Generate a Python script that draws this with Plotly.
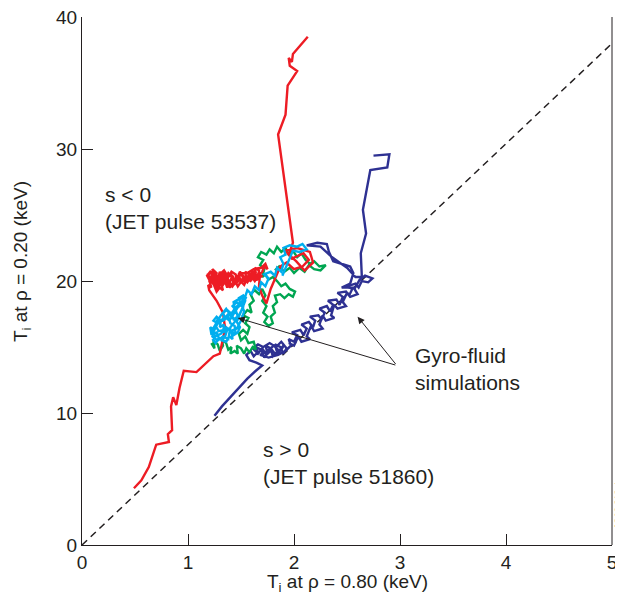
import plotly.graph_objects as go

# ---- data ----
red_pts = [
    (0.49, 4.3), (0.56, 4.9), (0.63, 5.9), (0.70, 7.6), (0.82, 7.8), (0.81, 8.4), (0.85, 8.7),
    (0.84, 10.5), (0.86, 11.2), (0.89, 10.6), (0.92, 11.9), (0.96, 13.2), (1.08, 13.1),
    (1.21, 14.1), (1.24, 14.3), (1.30, 14.5), (1.32, 15.3), (1.35, 16.4), (1.33, 17.6),
    (1.27, 18.5), (1.20, 19.3),
    (1.19, 19.7), (1.22, 19.5), (1.20, 20.1), (1.18, 20.4), (1.21, 20.7), (1.24, 20.5),
    (1.23, 20.9), (1.27, 20.6), (1.26, 20.2), (1.29, 20.4), (1.28, 19.8), (1.25, 19.6),
    (1.27, 19.2), (1.30, 19.5), (1.33, 19.3), (1.31, 19.9), (1.35, 20.1), (1.33, 20.6),
    (1.37, 20.4), (1.36, 19.7), (1.40, 19.9), (1.39, 19.5), (1.43, 19.7), (1.42, 20.2),
    (1.46, 20.0), (1.45, 20.5), (1.41, 20.7), (1.38, 20.3), (1.34, 20.8), (1.30, 20.5),
    (1.32, 20.0), (1.29, 19.6), (1.24, 19.9), (1.22, 20.3), (1.26, 20.0), (1.30, 20.2),
    (1.36, 19.9), (1.41, 20.1), (1.45, 19.8), (1.49, 20.1), (1.48, 20.6), (1.52, 20.4),
    (1.51, 19.9), (1.55, 20.2), (1.54, 20.7), (1.58, 20.5), (1.57, 20.1), (1.61, 20.3),
    (1.60, 20.8), (1.64, 20.6), (1.63, 21.0), (1.67, 20.8), (1.66, 20.4), (1.70, 20.7),
    (1.72, 21.1), (1.75, 20.9), (1.73, 21.3), (1.69, 21.0), (1.62, 20.9), (1.56, 20.6),
    (1.50, 20.6), (1.46, 20.3), (1.52, 20.0), (1.58, 20.2), (1.65, 20.1), (1.70, 20.4),
    (1.64, 20.5), (1.59, 20.0), (1.53, 20.3), (1.47, 19.6), (1.42, 20.4), (1.37, 19.5),
    (1.33, 20.4), (1.27, 19.4), (1.23, 20.6), (1.20, 19.9), (1.25, 20.3), (1.31, 19.7),
    (1.38, 20.6), (1.44, 20.0), (1.50, 20.5), (1.56, 19.9), (1.62, 20.6), (1.67, 20.2),
    (1.60, 20.4), (1.55, 20.0), (1.49, 20.7), (1.45, 19.9), (1.40, 20.6), (1.35, 19.8),
    (1.30, 20.7), (1.26, 19.5), (1.22, 20.0), (1.19, 20.5), (1.24, 20.7), (1.28, 20.1),
    (1.33, 19.7), (1.37, 20.2), (1.42, 19.6), (1.47, 20.2), (1.53, 19.7), (1.58, 20.6),
    (1.63, 20.0), (1.68, 20.6),
    (1.67, 19.6), (1.70, 18.9), (1.74, 18.3), (1.78, 19.4), (1.83, 20.4), (1.87, 21.1),
    (1.93, 21.4), (2.00, 20.9), (2.08, 21.1), (2.14, 21.6), (2.09, 22.1), (1.98, 21.7),
    (1.92, 22.3), (2.03, 22.5), (2.15, 22.2), (2.18, 21.4), (2.10, 20.8), (2.02, 21.5),
    (1.95, 22.0), (1.99, 22.9),
    (1.85, 31.1), (1.92, 32.6), (1.94, 34.8), (2.03, 35.9), (1.96, 36.3), (1.95, 36.9),
    (1.98, 36.6), (1.99, 37.2), (2.13, 38.5),
]

blue_pts = [
    (1.25, 9.8), (1.32, 10.5), (1.40, 11.2), (1.48, 11.9), (1.56, 12.6), (1.64, 13.2),
    (1.70, 13.6), (1.65, 13.8), (1.58, 14.0), (1.55, 14.4), (1.59, 14.7), (1.62, 14.3),
    (1.66, 14.6), (1.64, 15.0), (1.69, 14.8), (1.72, 14.2), (1.75, 14.6), (1.73, 15.1),
    (1.78, 14.9), (1.80, 14.3), (1.84, 14.6), (1.82, 15.2), (1.87, 15.0), (1.90, 14.5),
    (1.93, 14.9), (1.88, 15.4), (1.83, 15.0), (1.77, 15.3), (1.71, 15.0), (1.66, 15.2),
    (1.61, 14.9), (1.66, 14.5), (1.70, 14.9), (1.74, 14.4), (1.79, 14.8), (1.83, 14.4),
    (1.88, 14.8), (1.91, 15.2), (1.86, 14.7), (1.81, 15.1), (1.75, 14.7),
    (1.68, 14.4), (1.76, 14.2), (1.85, 14.4), (1.92, 14.7), (1.97, 15.1),
    (1.95, 15.6), (2.00, 15.4), (2.03, 15.9), (1.98, 16.1), (2.06, 16.3), (2.09, 15.9),
    (2.12, 16.4), (2.07, 16.7), (2.14, 16.9), (2.18, 16.5), (2.20, 17.0), (2.15, 17.3),
    (2.23, 17.4), (2.26, 17.1), (2.29, 17.6), (2.24, 17.9), (2.31, 18.1), (2.34, 17.7),
    (2.37, 18.2), (2.32, 18.5), (2.40, 18.6), (2.43, 18.2), (2.46, 18.8), (2.41, 19.1),
    (2.49, 19.2), (2.52, 18.9), (2.55, 19.4), (2.50, 19.6), (2.58, 19.8), (2.61, 19.5),
    (2.64, 20.0), (2.70, 19.9), (2.74, 20.2), (2.67, 20.4), (2.62, 20.1), (2.57, 19.4),
    (2.60, 19.0), (2.53, 18.8), (2.50, 19.1), (2.46, 18.4), (2.49, 18.1), (2.41, 17.9),
    (2.38, 18.2), (2.35, 17.4), (2.38, 17.2), (2.30, 17.0), (2.27, 17.4), (2.24, 16.7),
    (2.27, 16.4), (2.19, 16.2), (2.16, 16.6), (2.12, 15.8), (2.15, 15.6), (2.07, 15.4),
    (2.04, 15.8), (2.00, 15.1), (1.95, 15.3),
    (None, None),
    (2.58, 19.5), (2.45, 19.5), (2.53, 19.8), (2.56, 20.6), (2.53, 21.1), (2.45, 21.3),
    (2.37, 21.5), (2.33, 22.2), (2.31, 22.8), (2.22, 22.9), (2.12, 22.7), (2.25, 22.6),
    (2.36, 21.8), (2.50, 21.0), (2.58, 20.3), (2.64, 20.3), (2.63, 22.1), (2.68, 23.6),
    (2.65, 25.4), (2.72, 28.4), (2.88, 28.6), (2.90, 29.6), (2.75, 29.5),
]

green_pts = [
    (1.22, 15.3), (1.25, 14.9), (1.24, 15.5), (1.28, 15.2), (1.30, 14.7), (1.33, 15.1),
    (1.32, 15.6), (1.36, 15.3), (1.38, 14.8), (1.41, 15.0), (1.40, 14.5), (1.44, 14.7),
    (1.47, 14.5), (1.46, 15.1), (1.50, 14.9), (1.53, 14.5), (1.55, 14.9), (1.58, 14.6),
    (1.61, 15.0), (1.64, 14.8), (1.62, 15.4), (1.57, 15.3), (1.54, 15.8), (1.50, 15.5),
    (1.48, 16.0), (1.52, 16.3), (1.56, 16.0), (1.58, 16.5), (1.54, 16.8), (1.57, 17.2),
    (1.52, 17.4), (1.56, 17.8), (1.60, 17.6), (1.58, 18.2), (1.62, 18.5), (1.59, 19.0),
    (1.63, 19.3), (1.67, 19.0), (1.70, 19.4), (1.73, 18.9), (1.70, 18.5), (1.74, 18.1),
    (1.71, 17.6), (1.75, 17.3), (1.72, 16.9), (1.76, 16.6), (1.80, 16.8), (1.78, 17.3),
    (1.82, 17.6), (1.80, 18.1), (1.84, 18.4), (1.82, 18.9), (1.87, 19.0), (1.91, 18.7),
    (1.95, 19.0), (1.99, 18.8), (2.01, 19.2), (1.96, 19.4), (1.92, 19.8), (1.88, 19.6),
    (1.84, 20.0), (1.80, 20.3), (1.76, 20.1), (1.73, 20.5), (1.70, 20.3), (1.72, 20.9),
    (1.68, 21.2), (1.71, 21.6), (1.66, 21.8), (1.69, 22.2), (1.74, 22.0), (1.77, 22.4),
    (1.81, 22.1), (1.84, 22.6), (1.88, 22.2), (1.92, 22.5), (1.95, 22.0), (1.99, 22.3),
    (2.03, 21.8), (2.07, 22.1), (2.11, 21.6), (2.15, 21.3), (2.19, 21.5), (2.24, 21.1),
    (2.30, 21.2), (2.25, 20.8), (2.19, 20.9), (2.14, 21.2), (2.10, 20.7), (2.05, 21.0),
    (2.00, 20.6), (1.96, 21.0), (1.91, 20.7), (1.86, 21.1), (1.82, 20.8),
]

cyan_pts = [
    (1.23, 15.6), (1.26, 15.3), (1.29, 15.7), (1.27, 16.1), (1.22, 16.0), (1.21, 16.5),
    (1.25, 16.3), (1.28, 16.8), (1.24, 17.0), (1.27, 17.3), (1.31, 17.0), (1.30, 16.5),
    (1.34, 16.7), (1.33, 16.1), (1.37, 16.3), (1.35, 15.8), (1.32, 15.5), (1.36, 15.4),
    (1.39, 15.8), (1.42, 15.6), (1.41, 16.2), (1.45, 16.0), (1.44, 16.6), (1.40, 16.8),
    (1.38, 17.3), (1.35, 17.1), (1.33, 17.6), (1.37, 17.8), (1.41, 17.5), (1.43, 17.1),
    (1.47, 17.3), (1.45, 17.8), (1.42, 18.1), (1.46, 18.4), (1.50, 18.1), (1.48, 18.7),
    (1.52, 18.9), (1.54, 18.5), (1.51, 17.9), (1.49, 17.5), (1.46, 16.9), (1.49, 16.5),
    (1.47, 16.1), (1.43, 15.9), (1.38, 16.4), (1.34, 16.3), (1.29, 16.2), (1.26, 16.6),
    (1.30, 16.9), (1.35, 17.3), (1.39, 17.0), (1.43, 17.5), (1.47, 18.0), (1.52, 18.3),
    (1.55, 18.8), (1.50, 18.4), (1.44, 17.9), (1.40, 17.4), (1.36, 17.9), (1.31, 17.4),
    (1.27, 16.9), (1.23, 16.3), (1.26, 15.8), (1.31, 16.0), (1.36, 16.5), (1.40, 16.2),
    (1.46, 16.4), (1.50, 17.0), (1.53, 17.7), (1.50, 18.3), (1.55, 18.8),
    (1.47, 18.6), (1.43, 18.4), (1.45, 17.6), (1.39, 17.6), (1.33, 17.0), (1.28, 17.1),
    (1.25, 16.5), (1.23, 15.8), (1.28, 15.5), (1.33, 15.8), (1.38, 15.6), (1.40, 16.5),
    (1.44, 16.9), (1.48, 17.4), (1.52, 18.0), (1.53, 18.6),
    (1.56, 19.3), (1.60, 19.0), (1.63, 19.6), (1.67, 19.3), (1.69, 19.9),
    (1.73, 19.6), (1.76, 20.2), (1.72, 20.5), (1.78, 20.7), (1.82, 20.4), (1.84, 21.0),
    (1.88, 20.7), (1.90, 21.3), (1.87, 21.8), (1.92, 22.0), (1.90, 22.5), (1.96, 22.7),
    (2.03, 22.6), (2.08, 22.8), (2.12, 22.4), (2.05, 22.2), (1.99, 22.3), (1.96, 21.7),
    (1.93, 21.1), (1.89, 20.4),
]

dash_x = [0, 5]
dash_y = [0, 38]

x_ticks = [0, 1, 2, 3, 4, 5]
y_ticks = [0, 10, 20, 30, 40]

arrow_tail = (2.97, 13.6)
arrow_heads = [(1.47, 17.2), (2.60, 17.3)]

TXT = "#231f20"
FONT = "Liberation Sans, Arial, sans-serif"

fig = go.Figure()
fig.add_trace(go.Scatter(x=dash_x, y=dash_y, mode="lines",
                         line=dict(color="#231f20", width=1.5, dash="7px,5px"),
                         hoverinfo="skip", showlegend=False))
for pts, col in [(blue_pts, "#2e3192"), (green_pts, "#00a651"),
                 (red_pts, "#ed1c24"), (cyan_pts, "#00aeef")]:
    fig.add_trace(go.Scatter(x=[p[0] for p in pts], y=[p[1] for p in pts], mode="lines",
                             line=dict(color=col, width=2.4), connectgaps=False,
                             showlegend=False))

for hx, hy in arrow_heads:
    fig.add_annotation(x=hx, y=hy, ax=arrow_tail[0], ay=arrow_tail[1], xref="x", yref="y",
                       axref="x", ayref="y", text="", showarrow=True, arrowhead=2,
                       arrowsize=1.4, arrowwidth=1, arrowcolor="#231f20")

fig.add_annotation(x=3.12, y=13.3, xref="x", yref="y", text="Gyro-fluid<br>simulations",
                   showarrow=False, xanchor="left", yanchor="middle", align="left",
                   font=dict(size=21, color=TXT, family=FONT))
fig.add_annotation(x=0.20, y=25.5, xref="x", yref="y", text="s < 0<br>(JET pulse 53537)",
                   showarrow=False, xanchor="left", yanchor="middle", align="left",
                   font=dict(size=21, color=TXT, family=FONT))
fig.add_annotation(x=1.69, y=6.2, xref="x", yref="y", text="s > 0<br>(JET pulse 51860)",
                   showarrow=False, xanchor="left", yanchor="middle", align="left",
                   font=dict(size=21, color=TXT, family=FONT))

# axis titles
fig.add_annotation(x=0.5, y=-0.072, xref="paper", yref="paper",
                   text="T<sub>i</sub> at ρ = 0.80 (keV)", showarrow=False,
                   xanchor="center", yanchor="middle", font=dict(size=19, color=TXT, family=FONT))
fig.add_annotation(x=-0.113, y=0.536, xref="paper", yref="paper",
                   text="T<sub>i</sub> at ρ = 0.20 (keV)", showarrow=False, textangle=-90,
                   xanchor="center", yanchor="middle", font=dict(size=19, color=TXT, family=FONT))
fig.add_annotation(x=1.0, y=0.08, xref="paper", yref="paper", text="JG02.318-4c",
                   showarrow=False, textangle=-90, xanchor="left", yanchor="middle",
                   borderpad=0, font=dict(size=9, color=TXT, family=FONT))

fig.add_shape(type="line", x0=1, x1=1, y0=0, y1=1, xref="paper", yref="paper",
              line=dict(color="#231f20", width=1))

fig.update_xaxes(range=[0, 5], tickvals=x_ticks, ticks="inside", ticklen=11, tickwidth=1,
                 tickcolor="#231f20", showline=True, linecolor="#231f20", linewidth=1.2,
                 showgrid=False, zeroline=False, automargin=False, ticklabeloverflow="allow",
                 tickfont=dict(size=19, color=TXT, family=FONT))
fig.update_yaxes(range=[0, 40], tickvals=y_ticks, ticks="inside", ticklen=11, tickwidth=1,
                 tickcolor="#231f20", showline=True, linecolor="#231f20", linewidth=1.2,
                 showgrid=False, zeroline=False, automargin=False, ticklabeloverflow="allow",
                 tickfont=dict(size=19, color=TXT, family=FONT))

# the page body adds an 8px margin, so the plot area is offset to compensate
fig.update_layout(width=623, height=594, margin=dict(l=74, r=19, t=9, b=57),
                  plot_bgcolor="white", paper_bgcolor="white", showlegend=False)

fig.write_html("out.html")
